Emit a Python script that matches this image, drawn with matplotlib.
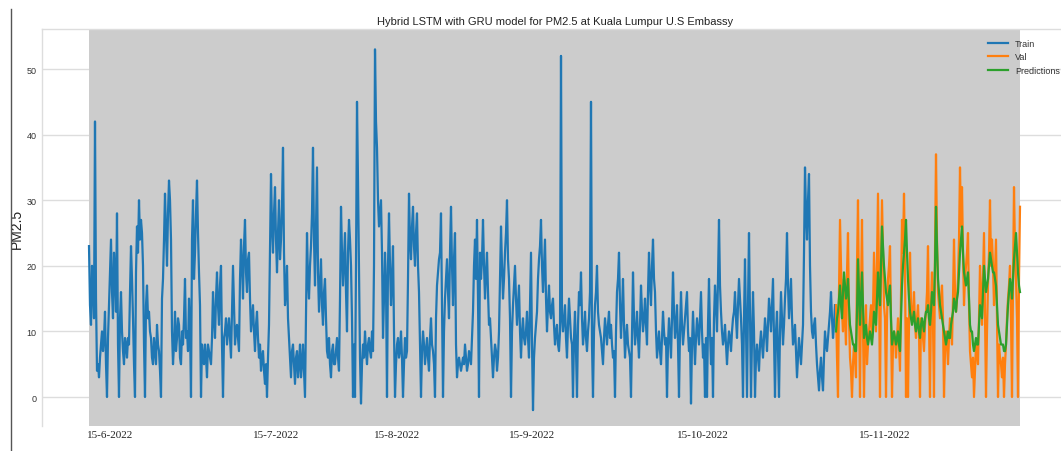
import matplotlib
matplotlib.use("Agg")
import matplotlib.pyplot as plt
from matplotlib.lines import Line2D
import numpy as np

# ---- data (PM2.5) ----
# "peak" readings (every 2 px of the reference) and "band" readings in between
train_a = [23, 11, 17, 42, 4, 3, 8, 7, 13, 0,
           14, 24, 12, 19, 28, 0, 16, 7, 9, 6,
           8, 23, 12, 0, 26, 30, 27, 20, 0, 17,
           13, 9, 5, 7, 11, 7, 0, 18, 31, 20,
           33, 24, 5, 13, 9, 11, 5, 8, 18, 10,
           15, 0, 30, 22, 33, 19, 0, 6, 8, 3,
           7, 5, 16, 9, 19, 11, 20, 0, 10, 8,
           12, 6, 20, 8, 11, 7, 24, 15, 27, 16,
           22, 10, 14, 7, 13, 6, 4, 7, 2, 0,
           11, 34, 22, 32, 19, 30, 24, 38, 14, 20,
           9, 3, 8, 2, 7, 5, 3, 8, 0, 25,
           15, 23, 38, 17, 35, 13, 21, 11]
band_a = [14, 20, 12, 15, 5, 6, 10, 9, 5, 9,
          19, 16, 22, 13, 8, 12, 10, 5, 8, 9,
          16, 18, 5, 19, 22, 24, 25, 8, 14, 12,
          10, 6, 9, 5, 8, 4, 15, 24, 25, 28,
          30, 10, 8, 7, 12, 6, 10, 12, 9, 7,
          11, 24, 18, 28, 25, 14, 8, 5, 6, 8,
          6, 9, 12, 15, 14, 17, 8, 9, 12, 10,
          9, 13, 14, 10, 9, 18, 20, 23, 19, 21,
          15, 12, 10, 11, 9, 8, 6, 4, 5, 6,
          22, 26, 28, 24, 25, 21, 29, 22, 16, 12,
          6, 7, 5, 6, 3, 8, 5, 4, 12, 18,
          20, 28, 24, 26, 19, 17, 14, 16]
train_b = [18, 7, 9, 3, 8, 5, 9, 4, 29, 17,
           25, 10, 27, 20, 0, 0, 45, 19, -1, 8,
           10, 5, 9, 6, 7, 53, 38, 26, 30, 9,
           22, 0, 28, 14, 23, 0, 8, 6, 10, 0,
           9, 7, 31, 21, 29, 20, 28, 16, 0, 10,
           5, 9, 4, 12, 7, 0, 17, 21, 28, 0,
           15, 21, 12, 29, 14, 25, 3, 6, 4, 6,
           8, 4, 7, 5, 13, 24, 27, 0, 18, 27,
           15, 22, 11, 9, 3, 8, 4, 10, 26, 15,
           22, 30, 18, 0, 14, 20, 11, 17, 6, 12,
           8, 13, 6, 22, -2, 9, 13, 21, 27, 16,
           24, 10, 17, 12, 15, 8, 11, 7]
band_b = [12, 6, 5, 7, 5, 7, 6, 15, 22, 21,
          16, 22, 24, 12, 8, 20, 33, 6, 5, 6,
          7, 8, 7, 10, 20, 42, 30, 28, 22, 15,
          17, 20, 20, 18, 10, 5, 9, 7, 6, 5,
          6, 18, 24, 26, 23, 25, 20, 8, 7, 8,
          7, 6, 9, 8, 5, 12, 19, 22, 14, 10,
          18, 16, 22, 20, 21, 8, 5, 5, 5, 5,
          6, 5, 6, 9, 20, 18, 15, 22, 21, 20,
          19, 16, 12, 6, 6, 7, 6, 18, 20, 18,
          25, 21, 12, 10, 17, 15, 14, 10, 10, 9,
          10, 9, 14, 8, 6, 11, 18, 23, 20, 20,
          15, 14, 13, 14, 11, 10, 8, 10]
train_c = [52, 10, 14, 6, 15, 9, 0, 13, 0, 16,
           19, 8, 13, 7, 12, 45, 0, 14, 20, 11,
           9, 5, 12, 8, 13, 11, 6, 0, 16, 22,
           9, 18, 6, 11, 7, 0, 19, 8, 13, 6,
           17, 10, 15, 8, 22, 14, 24, 16, 6, 10,
           5, 13, 8, 0, 12, 6, 19, 9, 14, 0,
           16, 8, 12, 16, 7, -1, 13, 5, 12, 8,
           16, 6, 0, 0, 18, 5, 0, 17, 10, 27,
           13, 8, 11, 5, 10, 7, 12, 16, 9, 18,
           12, 0, 21, 0, 25, 0, 16, 0, 8, 4,
           10, 6, 12, 7, 15, 10, 18, 0, 13, 0,
           16, 8, 15, 25, 12, 18, 8, 11]
band_c = [12, 12, 9, 11, 12, 8, 9, 7, 11, 14,
          12, 10, 9, 10, 16, 8, 10, 16, 13, 10,
          7, 9, 10, 11, 9, 8, 7, 10, 18, 14,
          13, 11, 9, 8, 6, 10, 12, 10, 9, 11,
          13, 12, 11, 16, 17, 20, 18, 10, 8, 7,
          9, 10, 9, 8, 9, 12, 13, 11, 8, 10,
          11, 10, 14, 10, 9, 8, 9, 9, 10, 12,
          10, 8, 9, 11, 10, 9, 12, 14, 18, 17,
          10, 9, 8, 8, 9, 10, 13, 12, 14, 15,
          8, 12, 10, 14, 12, 9, 10, 6, 6, 8,
          8, 9, 10, 11, 13, 14, 9, 10, 7, 10,
          12, 11, 18, 17, 15, 12, 9, 7]
train_d = [3, 9, 5, 11, 35, 24, 34, 13, 9, 12,
           5, 1, 6, 1, 10, 7, 11, 16, 9, 14]
band_d = [6, 7, 8, 22, 28, 30, 20, 10, 11, 8,
          3, 4, 3, 6, 8, 9, 13, 12, 11]

val_peak = [14, 0, 27, 13, 18, 8, 25, 6, 0, 8,
            3, 30, 0, 27, 0, 14, 8, 12, 9, 22,
            10, 31, 0, 30, 14, 0, 18, 23, 0, 10,
            6, 12, 4, 27, 31, 0, 0, 22, 12, 16,
            9, 14, 0, 11, 7, 13, 23, 0, 19, 0,
            37, 16, 12, 17, 0, 10, 5, 12, 8, 24,
            13, 18, 35, 32, 14, 20, 25, 7, 3, 0,
            8, 5, 20, 11, 25, 0, 17, 30, 24, 14,
            24, 0, 6, 3, 0, 8, 15, 20, 0, 32,
            18, 0, 29]
val_band = [6, 16, 20, 10, 12, 19, 12, 4, 5, 6,
            20, 14, 16, 10, 10, 5, 10, 14, 13, 16,
            20, 18, 20, 22, 12, 12, 20, 12, 8, 9,
            9, 8, 16, 22, 20, 12, 11, 14, 13, 11,
            12, 10, 12, 9, 11, 16, 12, 14, 11, 22,
            24, 14, 15, 12, 7, 8, 9, 11, 15, 16,
            15, 24, 26, 22, 18, 22, 14, 5, 6, 4,
            7, 12, 16, 18, 12, 10, 22, 20, 20, 19,
            12, 8, 5, 6, 5, 12, 17, 12, 17, 22,
            12, 18]
pred_peak = [10, 13, 17, 12, 19, 15, 18, 11, 9, 8,
             7, 21, 11, 19, 9, 11, 8, 10, 8, 13,
             11, 19, 14, 26, 20, 16, 14, 17, 8, 10,
             8, 10, 7, 17, 22, 27, 18, 13, 11, 13,
             10, 12, 9, 12, 10, 13, 14, 11, 16, 14,
             29, 18, 14, 12, 10, 8, 10, 9, 12, 15,
             13, 16, 22, 26, 19, 17, 19, 11, 10, 7,
             9, 8, 14, 12, 20, 16, 18, 22, 20, 19,
             17, 11, 9, 8, 7, 8, 14, 18, 15, 21,
             25, 19, 16]
pred_band = [12, 15, 14, 16, 17, 16, 14, 10, 8, 7,
             13, 16, 15, 14, 10, 9, 9, 9, 10, 12,
             15, 16, 20, 23, 18, 15, 16, 12, 9, 9,
             9, 8, 12, 20, 24, 22, 15, 12, 12, 11,
             11, 10, 11, 11, 12, 13, 12, 13, 15, 20,
             23, 16, 13, 11, 9, 9, 9, 11, 13, 14,
             15, 19, 24, 22, 18, 18, 15, 10, 8, 8,
             8, 11, 13, 16, 18, 17, 20, 21, 19, 18,
             14, 10, 8, 8, 7, 11, 16, 17, 18, 23,
             22, 17]

tick_idx = [21, 187, 308, 443, 614, 796]
tick_labels = ["15-6-2022", "15-7-2022", "15-8-2022", "15-9-2022",
               "15-10-2022", "15-11-2022"]


def interleave(peaks, bands):
    out = np.empty(len(peaks) + len(bands))
    out[0::2] = peaks
    out[1::2] = bands
    return out


train = interleave(train_a + train_b + train_c + train_d,
                   band_a + band_b + band_c + band_d)
val = interleave(val_peak, val_band)
pred = interleave(pred_peak, pred_band)

x_train = np.arange(len(train))
x_val = np.arange(len(train), len(train) + len(val))

W, H = 1061, 452
fig = plt.figure(figsize=(W / 100, H / 100), dpi=100)
ax = fig.add_axes([42 / W, 1 - 427 / H, 1026 / W, 397 / H])
ax.set_facecolor("white")

ax.axvspan(x_train[0], x_val[-1], color="#cccccc", zorder=1, lw=0)
ax.plot(x_train, train, color="#1f77b4", lw=1.6, label="Train", zorder=2)
ax.plot(x_val, val, color="#ff7f0e", lw=1.6, label="Val", zorder=3)
ax.plot(x_val, pred, color="#2ca02c", lw=1.6, label="Predictions", zorder=4)

ax.set_xlim(-47, 979)
ax.set_ylim(-4.42, 56.1)
ax.set_yticks([0, 10, 20, 30, 40, 50])
ax.grid(axis="y", color="#dddddd", lw=1)
ax.set_axisbelow(True)
ax.set_xticks(tick_idx)
ax.set_xticklabels(tick_labels, fontfamily="Liberation Serif", fontsize=8, color="#222222")
for lab in ax.get_yticklabels():
    lab.set_fontfamily("Liberation Sans")
    lab.set_fontsize(6.5)
    lab.set_color("#333333")
ax.tick_params(axis="both", length=0)
ax.tick_params(axis="x", pad=3)
ax.tick_params(axis="y", pad=4)
for s in ax.spines.values():
    s.set_color("#dddddd")
    s.set_linewidth(1)
ax.spines["bottom"].set_visible(False)

ax.set_title("Hybrid LSTM with GRU model for PM2.5 at Kuala Lumpur U.S Embassy",
             fontfamily="Liberation Sans", fontsize=8, color="#222222", pad=3.5)
ax.set_ylabel("PM2.5", fontfamily="Liberation Sans", fontsize=10, color="#222222", labelpad=1.5)

leg = ax.legend(loc="upper right", bbox_to_anchor=(1 + 2 / 1026, 1), frameon=False,
                prop={"family": "Liberation Sans", "size": 6.5},
                handlelength=2.2, handletextpad=0.8, labelspacing=0.5, borderaxespad=0.7)
for t in leg.get_texts():
    t.set_color("#333333")

fig.add_artist(Line2D([11 / W, 11 / W], [0, 1 - 10 / H], color="#555555", lw=1))

fig.savefig("out.png", dpi=100)
